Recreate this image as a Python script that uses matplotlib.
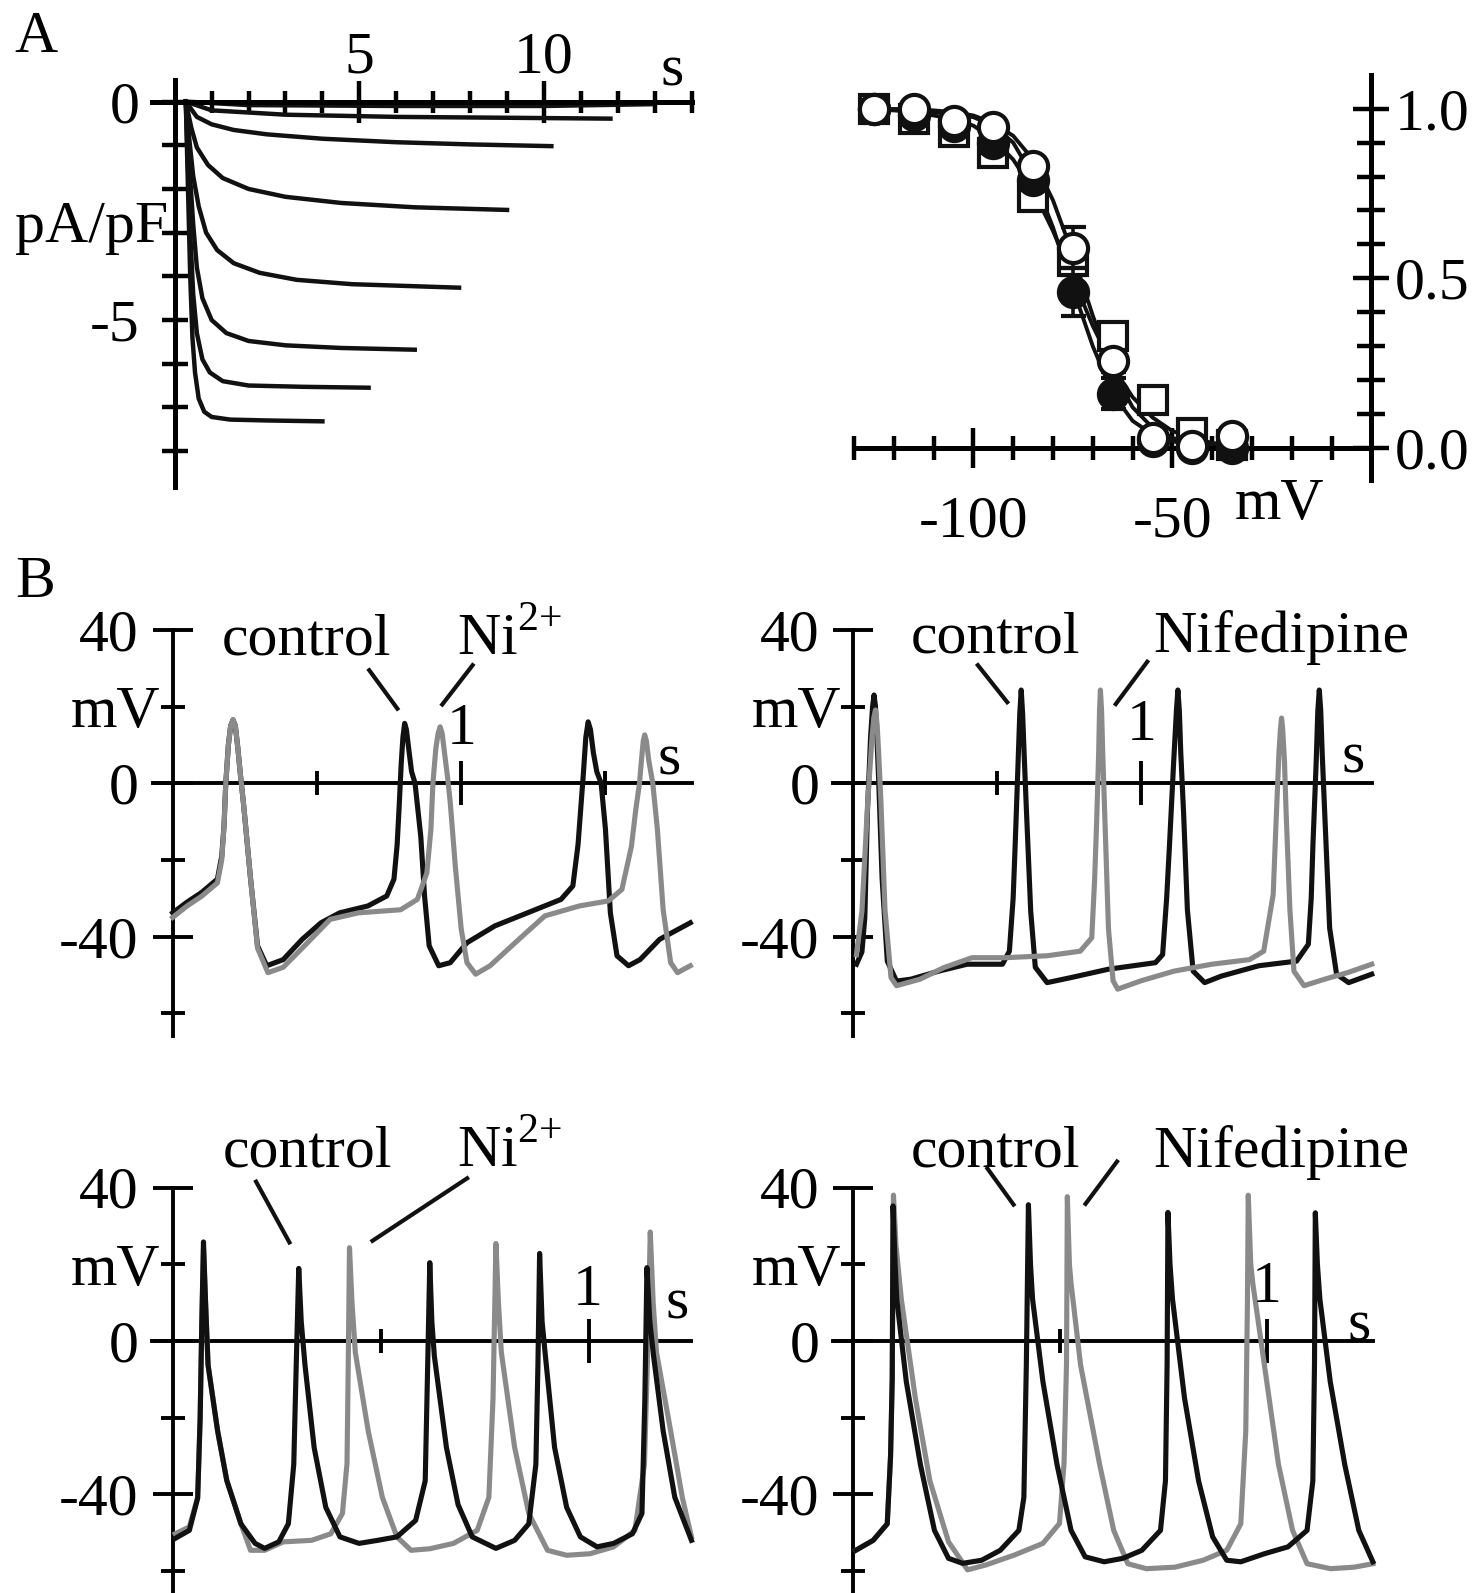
import matplotlib
matplotlib.use('Agg')
import matplotlib.pyplot as plt
from matplotlib.ticker import FixedLocator, FixedFormatter

plt.rcParams['font.family'] = 'Liberation Serif'
plt.rcParams['mathtext.fontset'] = 'custom'
plt.rcParams['mathtext.rm'] = 'Liberation Serif'
plt.rcParams['axes.unicode_minus'] = False

# ---------------- data ----------------
# A left: current density traces (s, pA/pF)
cur_t = [
    [0.3, 2.0, 6.0, 10.0, 12.9],
    [0.3, 1.0, 3.0, 6.0, 9.0, 11.8],
    [0.3, 0.6, 1.0, 1.6, 2.5, 4.0, 6.0, 8.0, 10.2],
    [0.3, 0.45, 0.6, 0.9, 1.3, 2.0, 3.0, 4.5, 6.5, 9.0],
    [0.3, 0.4, 0.5, 0.65, 0.85, 1.15, 1.6, 2.3, 3.3, 4.8, 7.7],
    [0.3, 0.4, 0.5, 0.6, 0.75, 1.0, 1.4, 2.0, 3.0, 4.5, 6.5],
    [0.3, 0.36, 0.42, 0.5, 0.6, 0.75, 0.95, 1.3, 2.0, 3.5, 5.25],
    [0.3, 0.36, 0.42, 0.48, 0.55, 0.65, 0.8, 1.0, 1.5, 2.5, 4.0],
]
cur_i = [
    [0, -0.08, -0.1, -0.1, -0.06],
    [0, -0.2, -0.3, -0.35, -0.37, -0.39],
    [0, -0.35, -0.52, -0.65, -0.75, -0.85, -0.93, -0.98, -1.02],
    [0, -0.6, -1.05, -1.45, -1.75, -2.0, -2.18, -2.32, -2.42, -2.48],
    [0, -0.9, -1.7, -2.4, -3.0, -3.4, -3.7, -3.92, -4.08, -4.18, -4.26],
    [0, -1.5, -2.8, -3.8, -4.5, -5.0, -5.3, -5.48, -5.58, -5.64, -5.68],
    [0, -1.5, -3.0, -4.4, -5.3, -5.9, -6.2, -6.4, -6.5, -6.53, -6.55],
    [0, -2.0, -4.0, -5.4, -6.2, -6.8, -7.1, -7.22, -7.28, -7.3, -7.32],
]

# A right: steady-state inactivation (mV, normalised)
inact_v = [-125, -115, -105, -95, -85, -75, -65, -55, -45, -35]
open_circ = [1.0, 1.0, 0.965, 0.945, 0.83, 0.59, 0.255, 0.03, 0.005, 0.035]
open_circ_err = [0, 0, 0.01, 0.015, 0.02, 0.06, 0.03, 0.01, 0.005, 0.01]
filled_circ = [1.0, 0.98, 0.95, 0.90, 0.79, 0.46, 0.16, 0.02, 0.0, 0.0]
filled_circ_err = [0, 0.01, 0.02, 0.03, 0.03, 0.07, 0.045, 0.01, 0.005, 0.005]
open_sq = [1.0, 0.97, 0.93, 0.87, 0.74, 0.55, 0.33, 0.14, 0.045, 0.01]
open_sq_err = [0, 0.01, 0.015, 0.025, 0.03, 0.04, 0.03, 0.02, 0.01, 0.005]

fit_v = [-125, -120, -115, -110, -105, -100, -95, -90, -85, -80, -75, -70,
         -65, -60, -55, -50, -45, -40, -35]
fit_open = [1.0, 0.999, 0.998, 0.995, 0.99, 0.98, 0.958, 0.92, 0.85, 0.73,
            0.57, 0.39, 0.23, 0.12, 0.06, 0.03, 0.013, 0.006, 0.003]
fit_filled = [1.0, 0.998, 0.995, 0.99, 0.985, 0.975, 0.95, 0.9, 0.8, 0.65,
              0.47, 0.3, 0.16, 0.08, 0.04, 0.02, 0.008, 0.004, 0.002]
fit_sq = [0.998, 0.995, 0.99, 0.98, 0.97, 0.95, 0.91, 0.85, 0.76, 0.64,
          0.5, 0.36, 0.24, 0.15, 0.09, 0.05, 0.03, 0.015, 0.008]

# B top left: control vs Ni2+ (s, mV)
tl_ctrl_t = [0.0, 0.05, 0.10, 0.155, 0.17, 0.178, 0.184, 0.193, 0.201, 0.209, 0.217,
             0.226, 0.235, 0.245, 0.27, 0.294, 0.326, 0.383, 0.449, 0.514, 0.579,
             0.677, 0.742, 0.767, 0.778, 0.785, 0.792, 0.798, 0.804, 0.81, 0.818,
             0.828, 0.84, 0.86, 0.873, 0.889, 0.922, 0.962, 1.02, 1.117, 1.23,
             1.346, 1.387, 1.405, 1.414, 1.423, 1.432, 1.44, 1.448, 1.458, 1.47,
             1.485, 1.50, 1.517, 1.54, 1.58, 1.62, 1.688, 1.794]
tl_ctrl_v = [-33.8, -31, -28.5, -25, -19, -11, 0, 10, 15, 16.5, 15, 9, 2, -5, -25,
             -42.4, -47.6, -46, -40.7, -36.4, -33.8, -32, -29.4, -25, -16, -6, 5,
             12, 15.6, 14, 9, 3, 0, -14, -29.4, -42.4, -47.6, -46.8, -41.6, -37.2,
             -33.8, -30.3, -26.8, -16, -7, 2, 12, 16, 14, 8, 3, 0, -12, -33.8, -45,
             -47.6, -46, -40.7, -36.4]
tl_ni_t = [0.0, 0.05, 0.10, 0.155, 0.17, 0.178, 0.184, 0.193, 0.201, 0.209, 0.217,
           0.226, 0.235, 0.245, 0.27, 0.294, 0.33, 0.383, 0.449, 0.546, 0.644,
           0.79, 0.848, 0.881, 0.895, 0.902, 0.912, 0.92, 0.927, 0.934, 0.942,
           0.952, 0.962, 0.98, 1.0, 1.02, 1.05, 1.10, 1.20, 1.29, 1.41, 1.51,
           1.557, 1.59, 1.605, 1.618, 1.626, 1.631, 1.636, 1.642, 1.65, 1.664,
           1.68, 1.70, 1.726, 1.75, 1.794]
tl_ni_v = [-35, -32, -29.5, -26, -20, -11, 0, 10, 15, 16.6, 15, 9, 2, -5, -25,
           -43, -49.4, -48, -43, -35.5, -33.8, -33, -30.3, -23.4, -12, 0, 9, 13,
           14.7, 13, 8, 2, -5, -22, -38, -46.8, -49.8, -47.6, -40.7, -34.6, -32,
           -30.7, -27.7, -16.5, -7, 0, 7, 11, 12.6, 11, 6, 0, -12, -33, -46.8,
           -49.4, -47.6]

# B top right: control vs nifedipine
tr_ctrl_t = [0.011, 0.03, 0.04, 0.049, 0.06, 0.067, 0.072, 0.077, 0.082, 0.088,
             0.1, 0.118, 0.15, 0.2, 0.297, 0.395, 0.518, 0.542, 0.555, 0.562,
             0.572, 0.578, 0.583, 0.588, 0.593, 0.6, 0.616, 0.632, 0.673, 0.755,
             0.886, 1.049, 1.074, 1.088, 1.098, 1.112, 1.122, 1.127, 1.132, 1.137,
             1.147, 1.16, 1.18, 1.22, 1.278, 1.408, 1.539, 1.58, 1.59, 1.596, 1.607,
             1.613, 1.618, 1.623, 1.628, 1.637, 1.654, 1.678, 1.72, 1.8]
tr_ctrl_v = [-47.2, -44, -35, -7.6, 12, 20, 23, 20, 12, 1, -24.8, -46.4, -51.6,
             -51.1, -49, -47.2, -47.2, -43.8, -30, -16.2, 5, 18, 24.3, 18, 8, -5,
             -33.4, -48, -52, -50.7, -48.5, -46.8, -44.7, -30, -16, 5, 19, 24.3,
             19, 8, -8, -33, -49, -52, -50.3, -47.6, -46.4, -42, -30, -16, 5, 19,
             24.3, 19, 8, -8, -37.8, -49.8, -52, -49.8]
tr_nif_t = [0.011, 0.03, 0.05, 0.065, 0.071, 0.077, 0.083, 0.088, 0.096, 0.11,
            0.131, 0.15, 0.232, 0.314, 0.412, 0.526, 0.673, 0.788, 0.828, 0.838,
            0.845, 0.852, 0.855, 0.858, 0.862, 0.866, 0.873, 0.886, 0.902, 0.918,
            1.0, 1.114, 1.245, 1.376, 1.425, 1.458, 1.468, 1.478, 1.483, 1.487,
            1.491, 1.497, 1.503, 1.516, 1.53, 1.565, 1.637, 1.72, 1.8]
tr_nif_v = [-44.7, -33.4, -5, 12, 17, 19.1, 15, 8, -5, -33, -50.7, -52.8, -51.1,
            -48.1, -45.5, -45.5, -45, -43.8, -40.3, -25, -10, 8, 19, 24.3, 19, 8,
            -8, -38, -51.5, -53.7, -51.5, -49, -47.2, -46, -43.8, -29, -10, 8,
            14, 17, 14, 6, -8, -33, -49, -52.8, -51.1, -49.3, -47.2]

# B bottom left: control vs Ni2+
bl_ctrl_t = [0.006, 0.04, 0.06, 0.066, 0.07, 0.074, 0.079, 0.085, 0.108, 0.13,
             0.164, 0.198, 0.221, 0.255, 0.278, 0.291, 0.297, 0.303, 0.309, 0.318,
             0.34, 0.368, 0.402, 0.448, 0.493, 0.539, 0.584, 0.607, 0.613, 0.618,
             0.623, 0.629, 0.658, 0.686, 0.72, 0.777, 0.822, 0.856, 0.873, 0.878,
             0.882, 0.888, 0.896, 0.918, 0.947, 0.98, 1.02, 1.06, 1.105, 1.128,
             1.135, 1.14, 1.147, 1.156, 1.179, 1.207, 1.247]
bl_ctrl_v = [-51.5, -49.4, -41, -20, 5, 25.8, 10, -6.3, -23.5, -36.4, -47.7, -52.8,
             -54.1, -52.4, -47.7, -32.2, -6, 18.9, 5, -6.3, -27.8, -43.4, -51.1,
             -52.8, -52, -51.1, -46.8, -36.5, -6, 20.4, 5, -4, -27.8, -42.7, -51.1,
             -54.1, -52, -47.7, -32.2, -6, 22.8, 5, -4, -27.8, -43.4, -51.1, -53.7,
             -52.8, -50.3, -45, -15, 19.1, 5, -4, -23.5, -40.8, -52]
bl_ni_t = [0.006, 0.04, 0.06, 0.066, 0.07, 0.074, 0.079, 0.085, 0.108, 0.13, 0.164,
           0.187, 0.221, 0.266, 0.334, 0.38, 0.408, 0.419, 0.422, 0.425, 0.431,
           0.439, 0.47, 0.504, 0.539, 0.573, 0.618, 0.675, 0.732, 0.76, 0.77,
           0.777, 0.783, 0.79, 0.822, 0.856, 0.901, 0.947, 1.003, 1.06, 1.111,
           1.134, 1.141, 1.148, 1.155, 1.163, 1.197, 1.225, 1.247]
bl_ni_v = [-50.3, -48.5, -40.8, -20, 5, 24, 10, -6.3, -23.5, -36.4, -47.7, -54.6,
           -54.6, -52.4, -52, -50.3, -45, -32, -6, 24.3, 10, -3, -23.5, -40.8,
           -51.1, -54.6, -54.2, -52.8, -49.4, -40.8, -15, 25.4, 10, -3, -27.8,
           -45, -54.6, -55.9, -55.5, -53.7, -49.4, -32.2, -6, 28.4, 10, -3, -23.5,
           -40.8, -51.1]

# B bottom right: control vs nifedipine
br_ctrl_t = [0.006, 0.048, 0.082, 0.09, 0.094, 0.096, 0.101, 0.105, 0.128, 0.162,
             0.196, 0.23, 0.264, 0.31, 0.355, 0.4, 0.412, 0.418, 0.423, 0.428,
             0.433, 0.458, 0.492, 0.526, 0.56, 0.606, 0.651, 0.697, 0.742, 0.754,
             0.758, 0.76, 0.765, 0.771, 0.8, 0.834, 0.868, 0.902, 0.936, 0.993,
             1.05, 1.096, 1.11, 1.114, 1.116, 1.121, 1.127, 1.152, 1.187, 1.221,
             1.255]
br_ctrl_v = [-54.6, -52, -47.7, -30, -10, 35.2, 20, 10.9, -10.6, -32.2, -49.4,
             -56.7, -58, -57.2, -54.6, -49.4, -40.8, -6, 35.5, 20, 10.9, -10.6,
             -32.2, -49.4, -56.3, -57.6, -56.7, -54.6, -49.4, -36.5, -6, 33.5, 20,
             10.9, -14.9, -36.5, -51.1, -57.2, -57.6, -55.5, -53.7, -49.4, -36.5,
             -6, 33.4, 20, 10.9, -10.6, -32.2, -49.4, -57.6]
br_nif_t = [0.006, 0.048, 0.082, 0.09, 0.094, 0.097, 0.103, 0.116, 0.15, 0.185,
            0.23, 0.276, 0.321, 0.39, 0.458, 0.498, 0.509, 0.515, 0.517, 0.522,
            0.526, 0.549, 0.595, 0.629, 0.663, 0.708, 0.777, 0.845, 0.902, 0.936,
            0.948, 0.952, 0.954, 0.96, 0.965, 0.993, 1.027, 1.061, 1.096, 1.153,
            1.21, 1.255]
br_nif_v = [-54.6, -52, -47.7, -30, -10, 38, 25, 10.9, -15, -36.5, -52.4, -59.7,
            -58.4, -55.8, -52.8, -47.6, -32, -6, 37.6, 20, 15, -6.3, -32.2, -49.4,
            -58.1, -59.4, -59, -57.2, -54.6, -47.7, -23.5, 10, 38, 20, 15, -6.3,
            -32.2, -49.4, -58.1, -59.4, -59, -58.1]

FS = 43
W, H = 1478, 1593
BLACK = '#111111'
GREY = '#8a8a8a'
TRACE_LW = 3.7
SPINE_B = 2.8

fig = plt.figure(figsize=(W / 100, H / 100), dpi=100)


def frame(ox, oy, sx, sy, xlim, ylim):
    # place an axes so that data (0,0) sits at pixel (ox, oy)
    left = ox + xlim[0] * sx
    right = ox + xlim[1] * sx
    top = oy - ylim[1] * sy
    bottom = oy - ylim[0] * sy
    ax = fig.add_axes([left / W, 1 - bottom / H, (right - left) / W, (bottom - top) / H])
    ax.set_xlim(xlim)
    ax.set_ylim(ylim)
    ax.patch.set_visible(False)
    return ax


def ticks(axis, major, major_lab, minor, minor_lab, lmaj, lmin, width, pad_maj, pad_min):
    axis.set_major_locator(FixedLocator(major))
    axis.set_major_formatter(FixedFormatter(major_lab))
    axis.set_minor_locator(FixedLocator(minor))
    axis.set_minor_formatter(FixedFormatter(minor_lab))
    axis.set_tick_params(which='major', direction='inout', length=lmaj, width=width,
                         pad=pad_maj, labelsize=FS)
    axis.set_tick_params(which='minor', direction='inout', length=lmin, width=width,
                         pad=pad_min, labelsize=FS)


fig.text(35.6 / W, 1 - 38 / H, 'A', fontsize=FS, ha='center', va='center')
fig.text(35.6 / W, 1 - 583 / H, 'B', fontsize=FS, ha='center', va='center')

# ---------------- A left ----------------
ax = frame(174.7, 101.6, 36.93, 43.68, (-1.2, 14.6), (-9.2, 1.4))
for sp in ['top', 'right']:
    ax.spines[sp].set_visible(False)
ax.spines['left'].set_position(('data', 0))
ax.spines['bottom'].set_position(('data', 0))
ax.spines['left'].set_bounds(-8.83, 0.49)
ax.spines['bottom'].set_bounds(-0.61, 14)
for sp in ['left', 'bottom']:
    ax.spines[sp].set_linewidth(3.6)
ticks(ax.xaxis, [5, 10], ['', ''], [1, 2, 3, 4, 6, 7, 8, 9, 11, 12, 13, 14],
      [''] * 12, 30, 16, 3.2, 2, 2)
ticks(ax.yaxis, [0, -5], ['0', '-5'], [-1, -2, -3, -4, -6, -7, -8], [''] * 7,
      19, 19, 3.2, 16, 16)
for t, i in zip(cur_t, cur_i):
    ax.plot(t, i, color=BLACK, lw=3.2, solid_joinstyle='round')
ax.text(5, 0.98, '5', fontsize=FS, ha='center', va='center')
ax.text(10, 0.98, '10', fontsize=FS, ha='center', va='center')
ax.text(13.48, 0.7, 's', fontsize=FS, ha='center', va='center')
ax.text(-0.19, -2.9, 'pA/pF', fontsize=FS, ha='right', va='center')

# ---------------- A right ----------------
ax = frame(1371.4, 448.0, 3.98, 339.3, (-135, 25), (-0.3, 1.15))
for sp in ['top', 'left']:
    ax.spines[sp].set_visible(False)
ax.spines['right'].set_position(('data', 0))
ax.spines['bottom'].set_position(('data', 0))
ax.spines['right'].set_bounds(-0.093, 1.098)
ax.spines['bottom'].set_bounds(-130, 0)
for sp in ['right', 'bottom']:
    ax.spines[sp].set_linewidth(3.6)
ax.yaxis.tick_right()
ticks(ax.xaxis, [-100, -50], ['-100', '-50'],
      [-130, -120, -110, -90, -80, -70, -60, -40, -30, -20, -10], [''] * 11,
      29, 17, 3.2, 20, 2)
ticks(ax.yaxis, [0, 0.5, 1.0], ['0.0', '0.5', '1.0'],
      [0.1, 0.2, 0.3, 0.4, 0.6, 0.7, 0.8, 0.9], [''] * 8, 26, 20, 3.2, 4, 2)
ax.plot(fit_v, fit_sq, color=BLACK, lw=2.8, zorder=2)
ax.plot(fit_v, fit_filled, color=BLACK, lw=2.8, zorder=2)
ax.plot(fit_v, fit_open, color=BLACK, lw=2.8, zorder=2)
ax.errorbar(inact_v, open_sq, yerr=open_sq_err, fmt='s', ms=20, mfc='white',
            mec=BLACK, mew=3.0, ecolor=BLACK, elinewidth=2.6, capsize=9,
            capthick=2.6, zorder=3)
ax.errorbar(inact_v, filled_circ, yerr=filled_circ_err, fmt='o', ms=21, mfc=BLACK,
            mec=BLACK, mew=3.0, ecolor=BLACK, elinewidth=2.6, capsize=9,
            capthick=2.6, zorder=4)
ax.errorbar(inact_v, open_circ, yerr=open_circ_err, fmt='o', ms=21, mfc='white',
            mec=BLACK, mew=3.0, ecolor=BLACK, elinewidth=2.6, capsize=9,
            capthick=2.6, zorder=5)
ax.text(-23, -0.168, 'mV', fontsize=FS, ha='center', va='center')


# ---------------- B panels ----------------
def ap_panel(ox, oy, sx, xlim, ylim, xend, xmaj, xmin, ybot):
    ax = frame(ox, oy, sx, 3.835, xlim, ylim)
    for sp in ['top', 'right']:
        ax.spines[sp].set_visible(False)
    ax.spines['left'].set_position(('data', 0))
    ax.spines['bottom'].set_position(('data', 0))
    ax.spines['left'].set_bounds(ybot, 40)
    ax.spines['bottom'].set_bounds(xlim[0], xend)
    for sp in ['left', 'bottom']:
        ax.spines[sp].set_linewidth(SPINE_B)
    ticks(ax.yaxis, [-40, 0, 40], ['-40', '0', '40'], [-60, -20, 20], ['', '', 'mV'],
          29, 17, SPINE_B, 10, 0.5)
    ticks(ax.xaxis, xmaj, [''] * len(xmaj), xmin, [''] * len(xmin), 32, 17, SPINE_B, 2, 2)
    return ax


def leader(ax, xs, ys):
    ax.plot(xs, ys, color=BLACK, lw=3.0, clip_on=False, solid_capstyle='butt')


NI = r'Ni$^{2{+}}$'

# top left
ax = ap_panel(172.7, 783.2, 288.5, (-0.07, 1.85), (-72, 48), 1.80, [1.0], [0.5, 1.5], -66)
ax.plot(tl_ctrl_t, tl_ctrl_v, color=BLACK, lw=TRACE_LW, zorder=3, solid_joinstyle='round')
ax.plot(tl_ni_t, tl_ni_v, color=GREY, lw=TRACE_LW, zorder=4, solid_joinstyle='round')
ax.text(0.465, 33.6, 'control', fontsize=FS, ha='center', va='baseline')
ax.text(0.984, 33.6, NI, fontsize=FS, ha='left', va='baseline')
leader(ax, [0.677, 0.783], [29.9, 19.0])
leader(ax, [1.044, 0.93], [31.2, 20.1])
ax.text(1.0, 13.9, '1', fontsize=FS, ha='center', va='center')
ax.text(1.72, 6.0, 's', fontsize=FS, ha='center', va='center')

# top right
ax = ap_panel(853.3, 783.2, 288.0, (-0.07, 1.85), (-72, 48), 1.80, [1.0], [0.5], -66)
ax.plot(tr_ctrl_t, tr_ctrl_v, color=BLACK, lw=TRACE_LW, zorder=3, solid_joinstyle='round')
ax.plot(tr_nif_t, tr_nif_v, color=GREY, lw=TRACE_LW, zorder=4, solid_joinstyle='round')
ax.text(0.493, 34.2, 'control', fontsize=FS, ha='center', va='baseline')
ax.text(1.04, 34.2, 'Nifedipine', fontsize=FS, ha='left', va='baseline')
leader(ax, [0.428, 0.539], [31.2, 20.7])
leader(ax, [1.025, 0.907], [32.1, 20.2])
ax.text(1.0, 15.0, '1', fontsize=FS, ha='center', va='center')
ax.text(1.735, 6.4, 's', fontsize=FS, ha='center', va='center')

# bottom left
ax = ap_panel(172.7, 1340.9, 416.0, (-0.05, 1.3), (-72, 60), 1.247, [1.0], [0.5], -72)
ax.plot(bl_ni_t, bl_ni_v, color=GREY, lw=TRACE_LW, zorder=3, solid_joinstyle='round')
ax.plot(bl_ctrl_t, bl_ctrl_v, color=BLACK, lw=TRACE_LW, zorder=4, solid_joinstyle='round')
ax.text(0.323, 45.4, 'control', fontsize=FS, ha='center', va='baseline')
ax.text(0.684, 45.4, NI, fontsize=FS, ha='left', va='baseline')
leader(ax, [0.198, 0.283], [42.0, 25.2])
leader(ax, [0.712, 0.476], [42.7, 25.8])
ax.text(0.998, 13.1, '1', fontsize=FS, ha='center', va='center')
ax.text(1.213, 9.4, 's', fontsize=FS, ha='center', va='center')

# bottom right
ax = ap_panel(853.3, 1340.9, 414.0, (-0.05, 1.3), (-72, 60), 1.255, [1.0], [0.5], -72)
ax.plot(br_nif_t, br_nif_v, color=GREY, lw=TRACE_LW, zorder=3, solid_joinstyle='round')
ax.plot(br_ctrl_t, br_ctrl_v, color=BLACK, lw=TRACE_LW, zorder=4, solid_joinstyle='round')
ax.text(0.344, 45.4, 'control', fontsize=FS, ha='center', va='baseline')
ax.text(0.725, 45.4, 'Nifedipine', fontsize=FS, ha='left', va='baseline')
leader(ax, [0.321, 0.39], [45.4, 35.1])
leader(ax, [0.64, 0.558], [47.2, 35.3])
ax.text(0.999, 13.8, '1', fontsize=FS, ha='center', va='center')
ax.text(1.221, 3.7, 's', fontsize=FS, ha='center', va='center')

fig.savefig('out.png', dpi=100)
